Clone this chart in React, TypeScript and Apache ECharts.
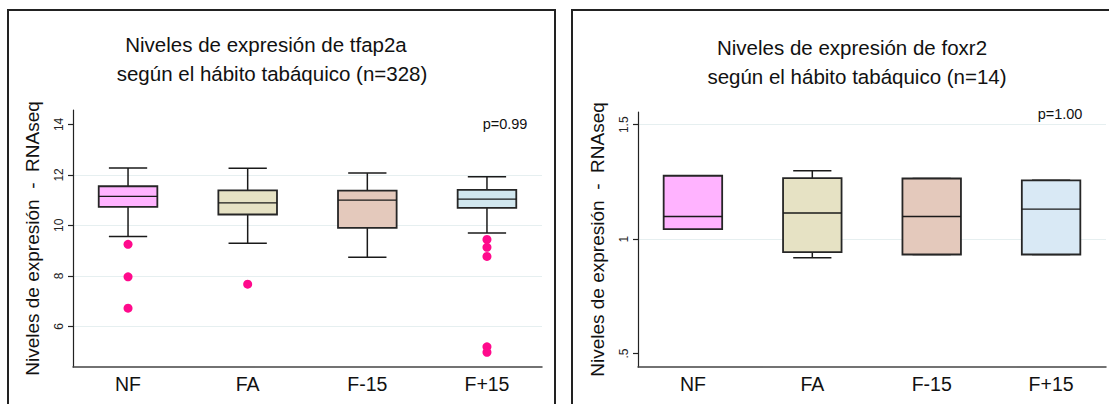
import React, { useEffect, useRef } from "react";
import * as echarts from "echarts";

const categories = ["NF", "FA", "F-15", "F+15"];
const boxColorsLeft = ["#FFB3FF", "#E6E2C4", "#E4C9BC", "#D1E7EF"];
const boxColorsRight = ["#FFB3FF", "#E6E2C4", "#E4C9BC", "#D9E9F5"];

// [low whisker, Q1, median, Q3, high whisker]
const tfap2aBoxes = [
  [9.56, 10.73, 11.15, 11.55, 12.27],
  [9.29, 10.43, 10.89, 11.39, 12.26],
  [8.74, 9.9, 11.0, 11.38, 12.07],
  [9.7, 10.69, 11.04, 11.41, 11.93],
];
// [category index, value]
const tfap2aOutliers = [
  [0, 9.25], [0, 7.96], [0, 6.72],
  [1, 7.67],
  [3, 9.44], [3, 9.13], [3, 8.77], [3, 5.19], [3, 4.97],
];
const foxr2Boxes = [
  [1.044, 1.044, 1.099, 1.277, 1.277],
  [0.919, 0.943, 1.114, 1.267, 1.299],
  [0.933, 0.933, 1.099, 1.265, 1.265],
  [0.933, 0.933, 1.131, 1.257, 1.257],
];

const leftTicks = [6, 8, 10, 12, 14];
const leftGridLines = [6, 8, 10, 12];
const rightTicks = [0.5, 1, 1.5];
const rightGridLines = [1, 1.5];
const xPositions = [0, 1, 2, 3];

const FONT = "'Liberation Sans', Arial, sans-serif";

function boxRender(colors: string[]) {
  return (params: any, api: any) => {
    const x = api.value(0);
    const lo = api.coord([x, api.value(1)]);
    const q1 = api.coord([x, api.value(2)]);
    const md = api.coord([x, api.value(3)]);
    const q3 = api.coord([x, api.value(4)]);
    const hi = api.coord([x, api.value(5)]);
    const cx = lo[0];
    const hb = api.size([0.49, 0])[0] / 2;
    const hc = api.size([0.32, 0])[0] / 2;
    const ls = { stroke: "#1a1a1a", lineWidth: 1.5 };
    return {
      type: "group",
      children: [
        { type: "line", shape: { x1: cx, y1: q3[1], x2: cx, y2: hi[1] }, style: ls },
        { type: "line", shape: { x1: cx, y1: q1[1], x2: cx, y2: lo[1] }, style: ls },
        { type: "line", shape: { x1: cx - hc, y1: hi[1], x2: cx + hc, y2: hi[1] }, style: ls },
        { type: "line", shape: { x1: cx - hc, y1: lo[1], x2: cx + hc, y2: lo[1] }, style: ls },
        {
          type: "rect",
          shape: { x: cx - hb, y: q3[1], width: hb * 2, height: q1[1] - q3[1] },
          style: { fill: colors[params.dataIndex], stroke: "#262626", lineWidth: 1.8 },
        },
        { type: "line", shape: { x1: cx - hb, y1: md[1], x2: cx + hb, y2: md[1] }, style: { stroke: "#1a1a1a", lineWidth: 1.4 } },
      ],
    };
  };
}

function yAxisFor(gridIndex: number, min: number, max: number, ticks: number[], fmt: (v: number) => string) {
  return {
    type: "value",
    gridIndex,
    min,
    max,
    axisLine: { show: true, onZero: false, lineStyle: { color: "#222", width: 1.2 } },
    axisTick: { show: true, customValues: ticks, length: 5, inside: false, lineStyle: { color: "#222", width: 1.2 } },
    axisLabel: {
      customValues: ticks,
      rotate: 90,
      margin: 8,
      fontSize: 12,
      color: "#222",
      fontFamily: FONT,
      formatter: (v: number) => fmt(v),
    },
    splitLine: { show: false },
    name: "Niveles de expresión  -  RNAseq",
    nameLocation: "middle",
    nameRotate: 90,
    nameGap: 31,
    nameTextStyle: { fontSize: 19, color: "#111", fontFamily: FONT },
  };
}

function xAxisFor(gridIndex: number) {
  return {
    type: "value",
    gridIndex,
    min: -0.46,
    max: 3.46,
    axisLine: { show: true, onZero: false, lineStyle: { color: "#444", width: 1.5 } },
    axisTick: { show: false },
    splitLine: { show: false },
    axisLabel: {
      customValues: xPositions,
      margin: 7,
      fontSize: 19.5,
      color: "#111",
      fontFamily: FONT,
      formatter: (v: number) => categories[Math.round(v)] ?? "",
    },
  };
}

function gridMarkLine(values: number[]) {
  return {
    silent: true,
    symbol: "none",
    label: { show: false },
    lineStyle: { color: "#E6EFF0", width: 1, type: "solid" },
    data: values.map((v) => ({ yAxis: v })),
    z: 0,
  };
}

export default function App() {
  const ref = useRef<HTMLDivElement>(null);
  useEffect(() => {
    if (!ref.current) return;
    const chart = echarts.init(ref.current, null, { renderer: "svg" });
    const leftData = tfap2aBoxes.map((b, i) => [xPositions[i], ...b]);
    const rightData = foxr2Boxes.map((b, i) => [xPositions[i], ...b]);
    const t = (x: number, y: number, text: string, size: number) => ({
      type: "text",
      x,
      y,
      style: { text, fontSize: size, fontFamily: FONT, fill: "#111", textAlign: "center", textVerticalAlign: "middle" },
    });
    chart.setOption({
      animation: false,
      backgroundColor: "#ffffff",
      grid: [
        { left: 73, top: 110, width: 469, height: 257 },
        { left: 638, top: 112, width: 468, height: 255 },
      ],
      xAxis: [xAxisFor(0), xAxisFor(1)],
      yAxis: [
        yAxisFor(0, 4.39, 14.57, leftTicks, (v) => String(v)),
        yAxisFor(1, 0.4413, 1.5556, rightTicks, (v) => (v === 0.5 ? ".5" : String(v))),
      ],
      series: [
        {
          type: "custom",
          xAxisIndex: 0,
          yAxisIndex: 0,
          data: leftData,
          encode: { x: 0, y: [1, 2, 3, 4, 5] },
          renderItem: boxRender(boxColorsLeft),
          markLine: gridMarkLine(leftGridLines),
          silent: true,
        },
        {
          type: "scatter",
          xAxisIndex: 0,
          yAxisIndex: 0,
          data: tfap2aOutliers,
          symbolSize: 9,
          itemStyle: { color: "#FF0A8C", opacity: 1 },
          silent: true,
        },
        {
          type: "custom",
          xAxisIndex: 1,
          yAxisIndex: 1,
          data: rightData,
          encode: { x: 0, y: [1, 2, 3, 4, 5] },
          renderItem: boxRender(boxColorsRight),
          markLine: gridMarkLine(rightGridLines),
          silent: true,
        },
      ],
      graphic: [
        { type: "rect", shape: { x: 8, y: 10, width: 547, height: 420 }, style: { fill: "none", stroke: "#222", lineWidth: 2 }, silent: true },
        { type: "rect", shape: { x: 572, y: 10, width: 600, height: 420 }, style: { fill: "none", stroke: "#222", lineWidth: 2 }, silent: true },
        t(266, 44, "Niveles de expresión de tfap2a", 20.5),
        t(272, 73, "según el hábito tabáquico (n=328)", 20.5),
        t(852, 47, "Niveles de expresión de foxr2", 20.5),
        t(857, 76, "según el hábito tabáquico (n=14)", 20.5),
        t(505, 124, "p=0.99", 14.5),
        t(1060, 114, "p=1.00", 14.5),
      ],
    });
    return () => chart.dispose();
  }, []);
  return <div ref={ref} style={{ position: "fixed", left: 0, top: 0, width: 1109, height: 404 }} />;
}
